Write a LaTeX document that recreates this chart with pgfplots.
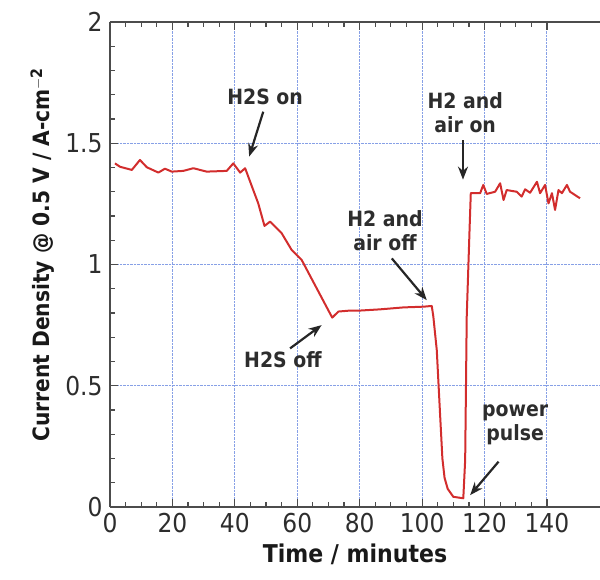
\documentclass[border=0pt]{standalone}
\usepackage{pgfplots}
\pgfplotsset{compat=1.18}
\usepackage{fontspec}
\setmainfont{DejaVu Sans Condensed}
\usetikzlibrary{arrows.meta}
\definecolor{gridblue}{RGB}{135,160,230}
\definecolor{curve}{RGB}{210,45,45}
\definecolor{txt}{RGB}{45,45,45}
\begin{document}
\begin{tikzpicture}
\begin{axis}[
  name=ax,
  scale only axis,
  width=490pt, height=485pt,
  xmin=0, xmax=157, ymin=0, ymax=2,
  axis x line=box, axis y line=left,
  axis line style={-, line width=1.2pt, black!70},
  xtick={0,20,...,140},
  ytick={0,0.5,1,1.5,2},
  yticklabels={0,0.5,1,1.5,2},
  minor x tick num=3, minor y tick num=4,
  tick align=inside,
  major tick length=8pt, minor tick length=5pt,
  tick style={line width=1.2pt, black!70},
  grid=major,
  grid style={gridblue, densely dotted, line width=0.9pt},
  /pgf/number format/assume math mode=true,
  ticklabel style={font=\fontsize{26}{28}\selectfont, text=txt},
  xticklabel style={yshift=-3pt},
  yticklabel style={xshift=-4pt},
  xlabel={\textbf{Time / minutes}},
  ylabel={\textbf{Current Density @ 0.5 V / A-cm$^{\mathbf{-2}}$}},
  xlabel style={font=\fontsize{24.5}{28}\selectfont, text=black!90, yshift=-4pt},
  ylabel style={font=\fontsize{22.5}{26}\selectfont, text=black!90, yshift=4pt, at={(ticklabel cs:0.52)}},
  clip=false,
]
\addplot[curve, line width=2pt, line join=round] coordinates {
(1.6,1.417) (3.2,1.403) (7,1.39) (9.6,1.431) (11.8,1.401) (15.5,1.379)
(17.6,1.395) (19.8,1.383) (23.5,1.386) (26.7,1.397) (31,1.383) (37.4,1.386)
(39.5,1.417) (41.7,1.379) (43.3,1.397) (45.9,1.307) (47.5,1.252) (49.5,1.159)
(51.3,1.177) (55,1.129) (58.2,1.060) (61.4,1.019) (71.2,0.781) (73.2,0.806)
(76.9,0.81) (80.1,0.81) (86.5,0.815) (94,0.823) (100.4,0.826) (103.1,0.829)
(103.6,0.785) (104.7,0.647) (105.8,0.372) (106.5,0.20) (107.2,0.12) (108.2,0.075)
(110,0.042) (113.2,0.036) (113.8,0.194) (114.3,0.785) (115.2,1.142)
(115.6,1.294) (118.6,1.294) (119.6,1.328) (120.7,1.291) (123.4,1.300)
(125,1.335) (126.1,1.266) (127.1,1.307) (130.3,1.300) (131.9,1.280)
(133,1.310) (134.6,1.296) (136.8,1.341) (137.8,1.294) (139.4,1.328)
(140.5,1.252) (141.6,1.294) (142.6,1.225) (143.7,1.307) (144.8,1.294)
(146.4,1.328) (147.4,1.300) (150.6,1.273)
};
\coordinate (sw) at (rel axis cs:0,0);
\coordinate (ne) at (rel axis cs:1,1);
\tikzset{ann/.style={font=\bfseries\fontsize{21}{24}\selectfont, text=txt, align=center, inner sep=1pt},
         arr/.style={-{Stealth[length=13pt,width=10pt]}, line width=2.2pt, black!85}}
\node[ann] at (axis cs:49.7,1.69) {H2S on};
\draw[arr] (axis cs:49.1,1.63) -- (axis cs:44.6,1.445);
\node[ann] at (axis cs:113.8,1.625) {H2 and\\air on};
\draw[arr] (axis cs:113.1,1.513) -- (axis cs:113.1,1.35);
\node[ann] at (axis cs:88.1,1.14) {H2 and\\air off};
\draw[arr] (axis cs:90.3,1.025) -- (axis cs:101.5,0.853);
\node[ann] at (axis cs:55.4,0.606) {H2S off};
\draw[arr] (axis cs:57.7,0.654) -- (axis cs:67.8,0.75);
\node[ann] at (axis cs:129.8,0.338) {power\\pulse};
\draw[arr] (axis cs:124.5,0.187) -- (axis cs:115.4,0.049);
\end{axis}
\pgfresetboundingbox
\path ([xshift=-110pt,yshift=-73pt]sw) rectangle ([yshift=22pt]ne);
\end{tikzpicture}
\end{document}
